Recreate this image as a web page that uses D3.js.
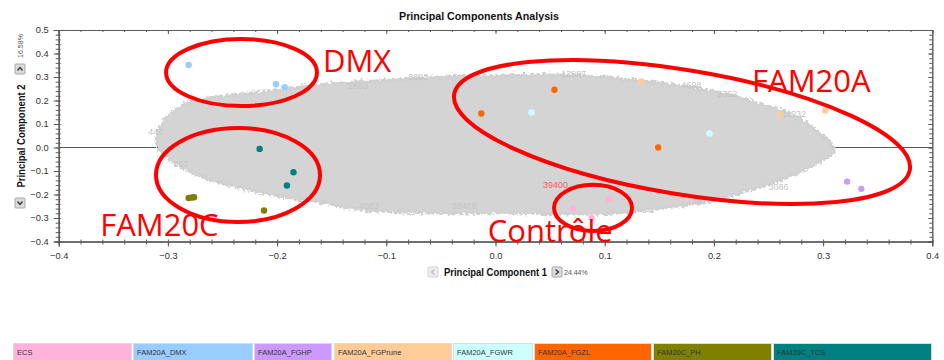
<!DOCTYPE html>
<html>
<head>
<meta charset="utf-8">
<script src="https://cdn.jsdelivr.net/npm/d3@7"></script>
<style>
  html, body { margin: 0; padding: 0; background: #fff; }
  svg { display: block; font-family: "Liberation Sans", Arial, sans-serif; }
</style>
</head>
<body>
<svg id="chart" width="944" height="360"></svg>
<script>
// ---- groups and colours ----
const groups = ["ECS", "FAM20A_DMX", "FAM20A_FGHP", "FAM20A_FGPrune", "FAM20A_FGWR", "FAM20A_FGZL", "FAM20C_PH", "FAM20C_TCS"];
const groupColors = ["#ffb3dc", "#99ccff", "#cc99ff", "#ffcc99", "#ccffff", "#ff6600", "#808000", "#008080"];

// ---- sample scores (PC1, PC2) ----
const sampleGroup = [
  "FAM20A_DMX", "FAM20A_DMX", "FAM20A_DMX",
  "FAM20C_TCS", "FAM20C_TCS", "FAM20C_TCS",
  "FAM20C_PH", "FAM20C_PH", "FAM20C_PH", "FAM20C_PH",
  "FAM20A_FGZL", "FAM20A_FGZL", "FAM20A_FGZL",
  "FAM20A_FGWR", "FAM20A_FGWR",
  "FAM20A_FGPrune", "FAM20A_FGPrune", "FAM20A_FGPrune",
  "FAM20A_FGHP", "FAM20A_FGHP",
  "ECS", "ECS", "ECS"
];
const pc1 = [
  -0.281, -0.201, -0.193,
  -0.216, -0.185, -0.191,
  -0.281, -0.278, -0.276, -0.212,
  -0.013, 0.054, 0.149,
  0.033, 0.196,
  0.133, 0.261, 0.302,
  0.322, 0.335,
  0.071, 0.104, 0.088
];
const pc2 = [
  0.351, 0.269, 0.257,
  -0.006, -0.105, -0.162,
  -0.215, -0.213, -0.212, -0.268,
  0.145, 0.246, 0.000,
  0.149, 0.060,
  0.280, 0.140, 0.157,
  -0.145, -0.176,
  -0.261, -0.220, -0.300
];

// ---- outline of the dense feature cloud (PC1, PC2) ----
const cloudPC1 = [
  -0.310, -0.309, -0.303, -0.294, -0.277, -0.243, -0.209, -0.179, -0.149, -0.088, -0.042, 0.004, 0.050, 0.095,
  0.132, 0.169, 0.205, 0.233, 0.260, 0.279, 0.295, 0.308, 0.310,
  0.297, 0.281, 0.251, 0.205, 0.169, 0.132, 0.095, 0.050, 0.004, -0.042, -0.088, -0.133, -0.161, -0.188,
  -0.225, -0.252, -0.271, -0.289, -0.303
];
const cloudPC2 = [
  0.011, 0.068, 0.118, 0.158, 0.198, 0.222, 0.238, 0.256, 0.272, 0.288, 0.301, 0.305, 0.309, 0.301,
  0.284, 0.263, 0.233, 0.199, 0.160, 0.122, 0.067, 0.011, -0.018,
  -0.061, -0.099, -0.154, -0.218, -0.248, -0.269, -0.282, -0.282, -0.278, -0.278, -0.274, -0.257, -0.231, -0.214,
  -0.180, -0.150, -0.120, -0.078, -0.035
];

// ---- feature ids printed along the cloud edge ----
const edgeText = ["447", "857", "2663", "8893", "13987", "4698", "11932", "9352", "4083", "38488", "1410", "3086"];
const edgePC1 = [-0.318, -0.295, -0.135, -0.080, 0.060, 0.170, 0.262, 0.203, -0.125, -0.040, 0.180, 0.250];
const edgePC2 = [0.055, -0.085, 0.250, 0.288, 0.300, 0.255, 0.128, 0.215, -0.262, -0.262, -0.240, -0.180];

// highlighted feature
const highlightText = ["39400"];
const highlightPC1 = [0.0435];
const highlightPC2 = [-0.172];

// ---- annotations ----
const noteText = ["DMX", "FAM20A", "FAM20C", "Contrôle"];
const notePC1 = [-0.158, 0.235, -0.362, -0.007];
const notePC2 = [0.322, 0.237, -0.375, -0.401];
const ringPC1 = [-0.2326, 0.1708, -0.2358, 0.0893];
const ringPC2 = [0.319, 0.066, -0.117, -0.257];
const ringHalfPC1 = [0.0691, 0.2115, 0.0751, 0.0357];
const ringHalfPC2 = [0.1426, 0.264, 0.200, 0.098];
const ringTilt = [0, 9.4, 0, 0];

// ---- axes ----
const xTicks = [-0.4, -0.3, -0.2, -0.1, 0.0, 0.1, 0.2, 0.3, 0.4];
const yTicks = [-0.4, -0.3, -0.2, -0.1, 0.0, 0.1, 0.2, 0.3, 0.4, 0.5];
const xTitle = "Principal Component 1", xPct = "24.44%";
const yTitle = "Principal Component 2", yPct = "16.58%";
const title = "Principal Components Analysis";

// ---- layout ----
const svg = d3.select("#chart");
const L = 58.7, R = 932.3, T = 30, B = 241.5;
const x = d3.scaleLinear().domain([-0.4, 0.4]).range([L, R]);
const y = d3.scaleLinear().domain([-0.4, 0.5]).range([B, T]);
const color = d3.scaleOrdinal().domain(groups).range(groupColors);
const axisColor = "#5a5a5a";

const defs = svg.append("defs");
const rough = defs.append("filter").attr("id", "rough")
  .attr("x", "-5%").attr("y", "-10%").attr("width", "110%").attr("height", "120%");
rough.append("feTurbulence").attr("type", "fractalNoise").attr("baseFrequency", "0.35")
  .attr("numOctaves", 2).attr("seed", 3).attr("result", "n");
rough.append("feDisplacementMap").attr("in", "SourceGraphic").attr("in2", "n")
  .attr("scale", 7).attr("xChannelSelector", "R").attr("yChannelSelector", "G");

// zero line
svg.append("line").attr("x1", L).attr("x2", R).attr("y1", y(0)).attr("y2", y(0))
  .attr("stroke", axisColor).attr("stroke-width", 1);

// feature cloud
const cloudPts = cloudPC1.map((v, i) => [x(v), y(cloudPC2[i])]);
svg.append("path")
  .attr("d", d3.line().curve(d3.curveCatmullRomClosed.alpha(0.5))(cloudPts))
  .attr("fill", "#d4d4d4").attr("stroke", "#d0d0d0").attr("stroke-width", 3)
  .attr("filter", "url(#rough)");

svg.append("g").selectAll("text").data(edgeText).join("text")
  .attr("x", (d, i) => x(edgePC1[i])).attr("y", (d, i) => y(edgePC2[i]))
  .attr("font-size", 9).attr("fill", "#c4c4c4").text(d => d);

svg.append("g").selectAll("text").data(highlightText).join("text")
  .attr("x", (d, i) => x(highlightPC1[i])).attr("y", (d, i) => y(highlightPC2[i]))
  .attr("font-size", 9).attr("fill", "#ff5a5a").text(d => d);

// axes
function drawAxis(g, axis) {
  g.call(axis);
  g.selectAll(".domain").attr("stroke", axisColor);
  g.selectAll(".tick line").attr("stroke", axisColor);
  g.selectAll(".tick text").attr("fill", "#333").attr("font-size", 9.3)
    .attr("font-family", "'Liberation Sans', Arial, sans-serif");
}
const xMinor = d3.range(-0.4, 0.4001, 0.02).map(v => +v.toFixed(2));
const yMinor = d3.range(-0.4, 0.5001, 0.02).map(v => +v.toFixed(2));

// bottom
drawAxis(svg.append("g").attr("transform", `translate(0,${B})`),
  d3.axisBottom(x).tickValues(xMinor).tickSize(3).tickFormat(""));
drawAxis(svg.append("g").attr("transform", `translate(0,${B})`),
  d3.axisTop(x).tickValues(xMinor).tickSize(2).tickFormat(""));
drawAxis(svg.append("g").attr("transform", `translate(0,${B})`),
  d3.axisBottom(x).tickValues(xTicks).tickSize(5).tickPadding(6).tickFormat(d3.format(".1f")));
// left
drawAxis(svg.append("g").attr("transform", `translate(${L},0)`),
  d3.axisLeft(y).tickValues(yMinor).tickSize(3).tickFormat(""));
drawAxis(svg.append("g").attr("transform", `translate(${L},0)`),
  d3.axisRight(y).tickValues(yMinor).tickSize(2).tickFormat(""));
drawAxis(svg.append("g").attr("transform", `translate(${L},0)`),
  d3.axisLeft(y).tickValues(yTicks).tickSize(5).tickPadding(5).tickFormat(d3.format(".1f")));
// top
drawAxis(svg.append("g").attr("transform", `translate(0,${T})`),
  d3.axisBottom(x).tickValues(xMinor).tickSize(2).tickFormat(""));
drawAxis(svg.append("g").attr("transform", `translate(0,${T})`),
  d3.axisBottom(x).tickValues(xTicks).tickSize(4).tickFormat(""));
// right
drawAxis(svg.append("g").attr("transform", `translate(${R},0)`),
  d3.axisLeft(y).tickValues(yMinor).tickSize(3).tickFormat(""));
drawAxis(svg.append("g").attr("transform", `translate(${R},0)`),
  d3.axisLeft(y).tickValues(yTicks).tickSize(4).tickFormat(""));

// samples
svg.append("g").selectAll("circle").data(pc1).join("circle")
  .attr("cx", d => x(d)).attr("cy", (d, i) => y(pc2[i])).attr("r", 3.2)
  .attr("fill", (d, i) => color(sampleGroup[i]));

// title
svg.append("text").attr("x", 479).attr("y", 19.5).attr("text-anchor", "middle")
  .attr("font-size", 11).attr("font-weight", "bold").attr("fill", "#111")
  .attr("textLength", 160).attr("lengthAdjust", "spacingAndGlyphs").text(title);

// axis title controls
function button(cx, cy, dir, enabled) {
  const g = svg.append("g").attr("transform", `translate(${cx},${cy})`);
  g.append("rect").attr("x", -5).attr("y", -5).attr("width", 10).attr("height", 10).attr("rx", 1)
    .attr("fill", enabled ? "#dcdcdc" : "#eeeeee").attr("stroke", enabled ? "#a8a8a8" : "#d4d4d4");
  const a = { right: 0, down: 90, left: 180, up: -90 }[dir];
  g.append("path").attr("d", "M-1.5,-2.5 L1.5,0 L-1.5,2.5").attr("transform", `rotate(${a})`)
    .attr("fill", "none").attr("stroke", enabled ? "#333" : "#bbb").attr("stroke-width", 1.3);
}
svg.append("text").attr("x", 495.5).attr("y", 276).attr("text-anchor", "middle")
  .attr("font-size", 11).attr("font-weight", "bold").attr("fill", "#111")
  .attr("textLength", 103).attr("lengthAdjust", "spacingAndGlyphs").text(xTitle);
button(433, 272, "left", false);
button(557, 272, "right", true);
svg.append("text").attr("x", 564).attr("y", 275).attr("font-size", 7).attr("fill", "#555").text(xPct);

svg.append("text").attr("transform", "translate(25,136) rotate(-90)").attr("text-anchor", "middle")
  .attr("font-size", 11).attr("font-weight", "bold").attr("fill", "#111")
  .attr("textLength", 103).attr("lengthAdjust", "spacingAndGlyphs").text(yTitle);
button(20, 69, "up", true);
button(20, 203, "down", true);
svg.append("text").attr("transform", "translate(23,46) rotate(-90)").attr("text-anchor", "middle")
  .attr("font-size", 7).attr("fill", "#555").text(yPct);

// annotations
svg.append("g").selectAll("ellipse").data(ringPC1).join("ellipse")
  .attr("transform", (d, i) => `translate(${x(d)},${y(ringPC2[i])}) rotate(${ringTilt[i]})`)
  .attr("rx", (d, i) => x(ringHalfPC1[i]) - x(0))
  .attr("ry", (d, i) => y(0) - y(ringHalfPC2[i]))
  .attr("fill", "none").attr("stroke", "#ff0000").attr("stroke-width", 4);
svg.append("g").selectAll("text").data(noteText).join("text")
  .attr("x", (d, i) => x(notePC1[i])).attr("y", (d, i) => y(notePC2[i]))
  .attr("font-family", "'Open Sans', sans-serif").attr("font-size", 31)
  .attr("fill", "#ff0000").text(d => d);

// legend strip
const legStart = [13, 133, 254, 334, 453, 534, 653, 773];
const legEnd = [131, 252, 331, 451, 532, 651, 771, 931];
const leg = svg.append("g").selectAll("g").data(groups).join("g")
  .attr("transform", (d, i) => `translate(${legStart[i]},343)`);
leg.append("rect").attr("x", 0.5).attr("y", 0.5)
  .attr("width", (d, i) => legEnd[i] - legStart[i]).attr("height", 20)
  .attr("fill", d => color(d)).attr("stroke", "#dadada");
leg.append("text").attr("x", 4).attr("y", 11.5).attr("font-size", 7.5).attr("fill", "#333")
  .text(d => d);
</script>
</body>
</html>
